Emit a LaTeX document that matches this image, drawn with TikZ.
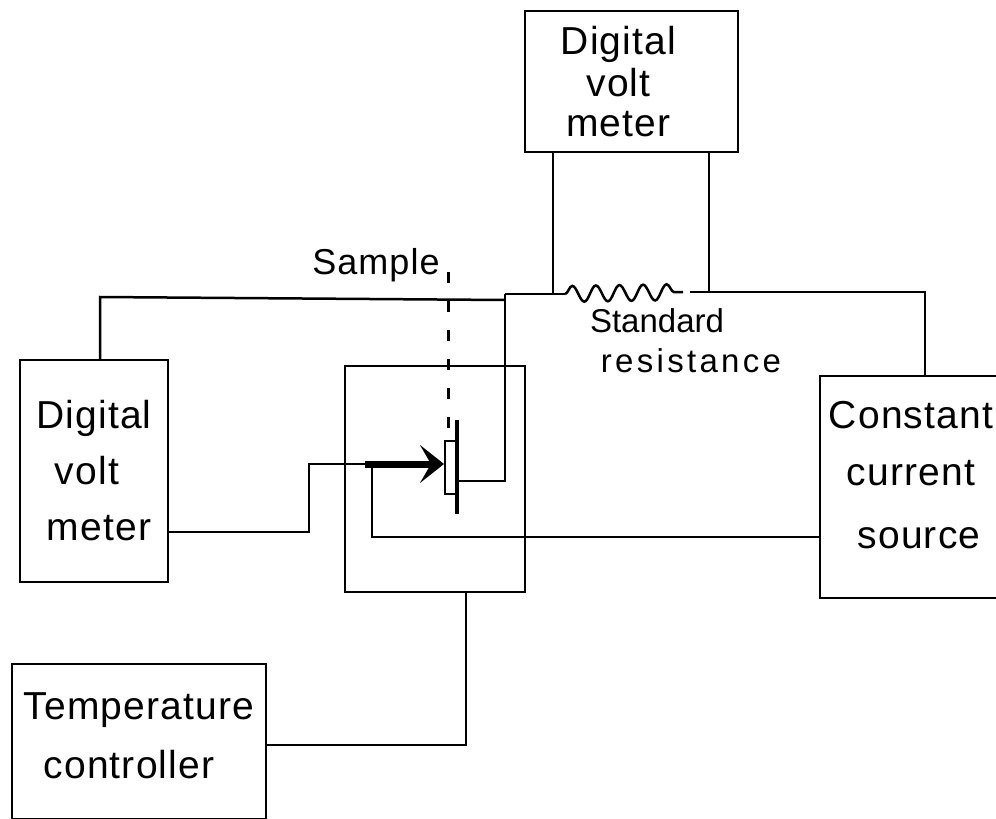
\documentclass[tikz,border=0pt]{standalone}
\usepackage{fontspec}
\setmainfont{Liberation Sans}
\newfontfamily\boxfont[LetterSpace=3]{Liberation Sans}
\newfontfamily\wideresfont[LetterSpace=10]{Liberation Sans}
\usetikzlibrary{arrows.meta}
\usetikzlibrary{decorations.pathmorphing}

\tikzset{
  wire/.style={line width=2.5pt},
  box/.style={draw,line width=2.5pt,rectangle,inner sep=0pt,align=center,font=\boxfont\fontsize{39}{39}\selectfont},
  caption/.style={inner sep=0pt,align=center,font=\fontsize{33}{40}\selectfont}
}

\begin{document}
\begin{tikzpicture}[x=1pt,y=-1pt]
\useasboundingbox (0,0) rectangle (996,819);
\clip (0,0) rectangle (996,819);
% Draw the nodes used for the picture
\node[box,minimum width=213pt,minimum height=141pt](topmeter) at (631.5,81.5){\hspace*{-26pt}Digital\\[3pt]\hspace*{-26pt}volt\\[1pt]\hspace*{-26pt}meter};
\node[box,minimum width=148pt,minimum height=222pt](leftmeter) at (94,471){Digital\\[17pt]\hspace*{-14pt}volt\\[17pt]\hspace*{10pt}meter};
\node[box,minimum width=180pt,minimum height=226pt](furnace) at (435,479){};
\node[box,minimum width=182pt,minimum height=222pt](source) at (911,487){Constant\\[18pt]current\\[24pt]\hspace*{16pt}source\\[-15pt]\mbox{}};
\node[box,minimum width=254pt,minimum height=155pt](controller) at (139,741.5){Temperature\\[20pt]\hspace*{-20pt}controller\\[-27pt]\mbox{}};
\node[draw,line width=2.5pt,fill=white,minimum width=11pt,minimum height=53pt,inner sep=0pt](sample) at (450.5,467.5){};
\node[caption,font=\boxfont\fontsize{36}{40}\selectfont](samplelabel) at (376,265){Sample};
\node[caption](resistlabel) at (691,341){\hspace*{-68pt}Standard\\{\wideresfont resistance}};

% Points where the wires turn or end
\coordinate(bar1) at (457,420);
\coordinate(bar2) at (457,514);
\coordinate(dash1) at (448.5,272);
\coordinate(dash2) at (448.5,430);
\coordinate(res1) at (565,294);
\coordinate(res2) at (683,292);
\coordinate(tap1) at (553,294);
\coordinate(tap2) at (709,292);
\coordinate(turn1) at (505,294);
\coordinate(turn2) at (505,481);
\coordinate(turn3) at (925,292);
\coordinate(feed1) at (309,464);
\coordinate(feed2) at (365,464);
\coordinate(tip) at (444,464);
\coordinate(ret) at (372,464);

% Draw the edges between the nodes
\draw[wire] (topmeter.south -| tap1) -- (tap1);
\draw[wire] (topmeter.south -| tap2) -- (tap2);
\draw[wire] (leftmeter.north -| 100,0) -- (100,297) -- (turn1 |- 0,300);
\draw[wire] (turn1) -- (res1);
\draw[wire,decorate,decoration={snake,segment length=23.6pt,amplitude=8pt}] (res1) -- (res2);
\draw[wire] (690,292) -- (turn3) -- (turn3 |- source.north);
\draw[wire] (turn1) -- (turn2) -- (bar1 |- turn2);
\draw[wire] (leftmeter.east |- 0,532) -- (309,532) -- (feed1) -- (feed2);
\draw[line width=7pt,-{Stealth[length=24pt,width=38pt,inset=11pt]}] (feed2) -- (tip);
\draw[wire] (ret) -- (372,537) -- (source.west |- 0,537);
\draw[wire] (controller.east |- 0,745) -- (466,745) -- (furnace.south -| 466,0);
\draw[line width=4pt] (bar1) -- (bar2);
\draw[wire,dash pattern=on 11pt off 18pt] (dash1) -- (dash2);
\end{tikzpicture}
\end{document}
